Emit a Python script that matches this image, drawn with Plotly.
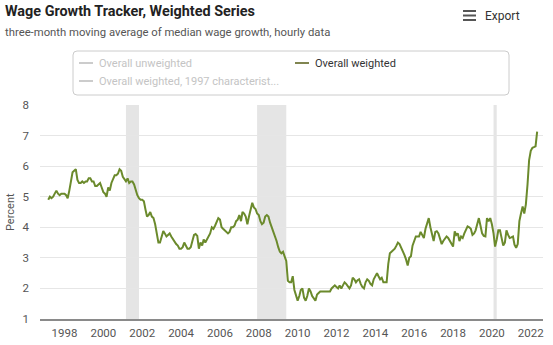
import pandas as pd
import plotly.graph_objects as go

# ---------------- data ----------------
series_start = "1997-03-01"
weighted_values = [
    4.9, 5.0, 4.95, 5.0, 5.1, 5.2, 5.1, 5.05, 5.1, 5.1,                      # 1997 Mar-Dec
    5.1, 5.05, 4.95, 5.2, 5.5, 5.8, 5.85, 5.9, 5.55, 5.45, 5.45, 5.5,        # 1998
    5.45, 5.5, 5.5, 5.6, 5.6, 5.5, 5.5, 5.35, 5.35, 5.4, 5.45, 5.3,          # 1999
    5.15, 5.1, 5.0, 5.3, 5.2, 5.45, 5.55, 5.7, 5.7, 5.75, 5.9, 5.85,         # 2000
    5.65, 5.55, 5.5, 5.6, 5.45, 5.5, 5.5, 5.4, 5.2, 5.05, 4.95, 4.9,         # 2001
    4.9, 4.85, 4.6, 4.35, 4.4, 4.5, 4.35, 4.3, 4.1, 3.8, 3.5, 3.5,           # 2002
    3.7, 3.88, 3.8, 3.7, 3.75, 3.8, 3.7, 3.6, 3.5, 3.45, 3.4, 3.3,           # 2003
    3.3, 3.35, 3.5, 3.4, 3.3, 3.3, 3.35, 3.55, 3.75, 3.78, 3.72, 3.3,        # 2004
    3.5, 3.4, 3.6, 3.5, 3.6, 3.7, 3.8, 4.0, 3.95, 4.05, 4.2, 4.3,            # 2005
    4.25, 4.0, 3.95, 3.9, 3.88, 3.8, 3.85, 4.0, 4.0, 4.05, 4.2, 4.25,        # 2006
    4.4, 4.2, 4.5, 4.45, 4.35, 4.1, 4.35, 4.55, 4.8, 4.65, 4.6, 4.45,        # 2007
    4.4, 4.2, 4.1, 4.15, 4.35, 4.4, 4.35, 4.15, 4.0, 3.9, 3.7, 3.55,         # 2008
    3.35, 3.2, 3.15, 3.2, 3.05, 2.9, 2.25, 2.2, 2.2, 2.4, 1.95, 1.75,        # 2009
    1.6, 1.75, 1.95, 2.0, 1.7, 1.6, 1.75, 2.0, 1.9, 1.75, 1.65, 1.6,         # 2010
    1.8, 1.85, 1.9, 1.9, 1.9, 1.9, 1.9, 1.9, 1.9, 2.0, 2.05, 2.1,            # 2011
    2.05, 2.0, 2.1, 2.0, 2.1, 2.2, 2.15, 2.05, 2.0, 2.1, 2.35, 2.3,          # 2012
    2.2, 2.27, 2.3, 2.15, 2.05, 2.0, 2.2, 2.3, 2.25, 2.15, 2.1, 2.3,         # 2013
    2.4, 2.5, 2.4, 2.3, 2.35, 2.2, 2.2, 2.2, 2.8, 3.15, 3.2, 3.25,           # 2014
    3.3, 3.4, 3.5, 3.45, 3.35, 3.2, 3.1, 2.95, 2.75, 3.0, 3.05, 3.4,         # 2015
    3.55, 3.7, 3.7, 3.7, 3.85, 3.75, 3.65, 3.95, 4.15, 4.3, 4.0, 3.8,        # 2016
    3.55, 3.85, 3.87, 3.8, 3.6, 3.45, 3.55, 3.65, 3.7, 3.65, 3.55, 3.45,     # 2017
    3.37, 3.87, 3.75, 3.8, 3.55, 3.7, 3.65, 3.8, 3.9, 4.03, 4.0, 3.95,       # 2018
    3.75, 3.8, 3.9, 4.1, 4.3, 4.05, 3.8, 3.72, 3.7, 4.3, 4.2, 4.3,           # 2019
    4.1, 3.8, 3.37, 3.6, 3.9, 3.9, 3.6, 3.4, 3.5, 3.9, 3.75, 3.65,           # 2020
    3.67, 3.7, 3.43, 3.33, 3.45, 4.2, 4.45, 4.68, 4.45, 4.75, 5.4, 6.2,      # 2021
    6.5, 6.6, 6.62, 6.65, 7.13,                                              # 2022 Jan-May
]
recession_starts = ["2001-03-01", "2007-12-01", "2020-02-01"]
recession_ends = ["2001-11-01", "2009-06-01", "2020-04-01"]
y_ticks = [1, 2, 3, 4, 5, 6, 7, 8]
x_tick_years = list(range(1998, 2023, 2))
legend_labels = ["Overall unweighted", "Overall weighted", "Overall weighted, 1997 characterist..."]

title_text = "Wage Growth Tracker, Weighted Series"
subtitle_text = "three-month moving average of median wage growth, hourly data"

# ---------------- layout geometry ----------------
W_FIG, H_FIG = 553, 345
L, R, T, B = 40, 543, 105, 319
PW, PH = R - L, B - T
FONT = "Roboto"
LINE_COLOR = "#6b8a2c"


def px_x(p):
    return (p - L) / PW


def px_y(p):
    return (B - p) / PH


dates = pd.date_range(series_start, periods=len(weighted_values), freq="MS")

fig = go.Figure()
fig.add_trace(go.Scatter(
    x=dates, y=weighted_values, mode="lines",
    line=dict(color=LINE_COLOR, width=2),
    name=legend_labels[1], showlegend=False,
))

shapes = []
for s, e in zip(recession_starts, recession_ends):
    shapes.append(dict(type="rect", xref="x", yref="paper", x0=s, x1=e, y0=0, y1=1,
                       fillcolor="#e5e5e5", line=dict(width=0), layer="below"))

# legend box (rounded rectangle)
bx0, bx1, by0, by1, rad = 73, 509, 51, 95, 4
rx, ry = rad / PW, rad / PH
X0, X1, Y0, Y1 = px_x(bx0), px_x(bx1), px_y(by1), px_y(by0)
path = (f"M {X0+rx},{Y0} L {X1-rx},{Y0} Q {X1},{Y0} {X1},{Y0+ry} "
        f"L {X1},{Y1-ry} Q {X1},{Y1} {X1-rx},{Y1} L {X0+rx},{Y1} "
        f"Q {X0},{Y1} {X0},{Y1-ry} L {X0},{Y0+ry} Q {X0},{Y0} {X0+rx},{Y0} Z")
shapes.append(dict(type="path", xref="paper", yref="paper", path=path,
                   line=dict(color="#cccccc", width=1), fillcolor="rgba(0,0,0,0)"))

legend_items = [
    (79, 63, "#cccccc", "#c4c4c4", legend_labels[0]),
    (295, 63, "#808550", "#333333", legend_labels[1]),
    (79, 81, "#cccccc", "#c4c4c4", legend_labels[2]),
]
annotations = []
for lx, ly, lc, tc, txt in legend_items:
    shapes.append(dict(type="line", xref="paper", yref="paper",
                       x0=px_x(lx), x1=px_x(lx + 14), y0=px_y(ly), y1=px_y(ly),
                       line=dict(color=lc, width=2)))
    annotations.append(dict(xref="paper", yref="paper", x=px_x(lx + 18), y=px_y(ly),
                            xanchor="left", yanchor="middle", showarrow=False, text=txt,
                            font=dict(family=FONT, size=11, color=tc)))

# hamburger icon
for hy in (11, 15.5, 20):
    shapes.append(dict(type="line", xref="paper", yref="paper",
                       x0=px_x(463), x1=px_x(476), y0=px_y(hy), y1=px_y(hy),
                       line=dict(color="#555555", width=2)))

annotations += [
    dict(xref="paper", yref="paper", x=px_x(3), y=px_y(12), xanchor="left", yanchor="middle",
         showarrow=False, text=f"<b>{title_text}</b>",
         font=dict(family=FONT, size=14.4, color="#222222")),
    dict(xref="paper", yref="paper", x=px_x(3), y=px_y(33), xanchor="left", yanchor="middle",
         showarrow=False, text=subtitle_text,
         font=dict(family=FONT, size=11.3, color="#555555")),
    dict(xref="paper", yref="paper", x=px_x(483), y=px_y(16), xanchor="left", yanchor="middle",
         showarrow=False, text="Export",
         font=dict(family=FONT, size=12, color="#333333")),
    dict(xref="paper", yref="paper", x=px_x(10), y=0.5, xanchor="center", yanchor="middle",
         showarrow=False, text="Percent", textangle=-90,
         font=dict(family=FONT, size=11, color="#555555")),
]

fig.update_layout(
    width=W_FIG, height=H_FIG,
    margin=dict(l=L, r=W_FIG - R, t=T, b=H_FIG - B, pad=0, autoexpand=False),
    paper_bgcolor="white", plot_bgcolor="white",
    showlegend=False,
    shapes=shapes, annotations=annotations,
    xaxis=dict(
        type="date", automargin=False,
        range=["1996-09-27", "2022-08-19"],
        tickvals=[f"{y}-01-01" for y in x_tick_years],
        ticktext=[str(y) for y in x_tick_years],
        showgrid=False, zeroline=False,
        showline=True, linecolor="#8a8a8a", linewidth=2,
        ticks="", tickfont=dict(family=FONT, size=11.5, color="#555555"),
        ticklabelstandoff=2,
    ),
    yaxis=dict(
        automargin=False,
        range=[1, 8], tickvals=y_ticks,
        showgrid=True, gridcolor="#e6e6e6", gridwidth=1, zeroline=False,
        ticks="", tickfont=dict(family=FONT, size=11.5, color="#555555"),
        ticklabelstandoff=10,
    ),
)

fig.write_html("out.html", config={"displayModeBar": False})
